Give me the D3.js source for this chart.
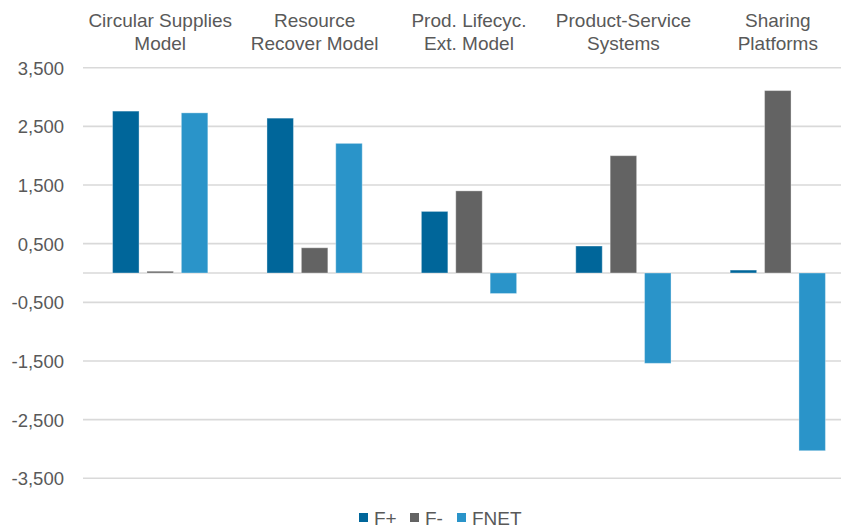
<!DOCTYPE html>
<html>
<head>
<meta charset="utf-8">
<script src="https://cdn.jsdelivr.net/npm/d3@7/dist/d3.min.js"></script>
<style>
  html, body { margin: 0; padding: 0; background: #fff; }
  svg { display: block; }
  text { font-family: "Liberation Sans", Arial, sans-serif; fill: #595959; }
</style>
</head>
<body>
<svg id="chart" width="841" height="529"></svg>
<script>
// Business model categories (two-line labels)
const categories = [
  "Circular Supplies Model",
  "Resource Recover Model",
  "Prod. Lifecyc. Ext. Model",
  "Product-Service Systems",
  "Sharing Platforms"
];
const categoryLines = [
  ["Circular Supplies", "Model"],
  ["Resource", "Recover Model"],
  ["Prod. Lifecyc.", "Ext. Model"],
  ["Product-Service", "Systems"],
  ["Sharing", "Platforms"]
];

const seriesNames = ["F+", "F-", "FNET"];
const fPlus = [2.76, 2.64, 1.05, 0.46, 0.05];
const fMinus = [0.03, 0.43, 1.40, 2.00, 3.11];
const fNet = [2.73, 2.21, -0.35, -1.54, -3.03];

const tickValues = [3.5, 2.5, 1.5, 0.5, -0.5, -1.5, -2.5, -3.5];
const tickLabels = ["3,500", "2,500", "1,500", "0,500", "-0,500", "-1,500", "-2,500", "-3,500"];

const colors = ["#00669a", "#636363", "#2a94c9"];

const series = [fPlus, fMinus, fNet];

const svg = d3.select("#chart");

const x = d3.scaleBand().domain(categories).range([83, 855]).paddingInner(0).paddingOuter(0);
const xInner = d3.scaleBand().domain(seriesNames).range([0, x.bandwidth()])
  .paddingInner(0.23).paddingOuter(0.86);
const y = d3.scaleLinear().domain([-3.5, 3.5]).range([478.3, 67.7]);

// Horizontal gridlines, plus the zero baseline
const gridVals = tickValues.concat([0]);
svg.append("g").selectAll("line").data(gridVals).join("line")
  .attr("x1", 83).attr("x2", 841)
  .attr("y1", d => y(d)).attr("y2", d => y(d))
  .attr("stroke", "#d9d9d9").attr("stroke-width", 1.6);

// Y axis labels
const yAxis = d3.axisLeft(y).tickValues(tickValues)
  .tickFormat((d, i) => tickLabels[i]).tickSize(0).tickPadding(0);
const gy = svg.append("g").attr("transform", "translate(64,0)").call(yAxis);
gy.select(".domain").remove();
gy.selectAll("text")
  .attr("font-size", 18.5)
  .attr("font-family", "Liberation Sans, Arial, sans-serif")
  .attr("fill", "#595959")
  .attr("dy", "0.35em");

// Bars
const rows = [];
categories.forEach((c, ci) => {
  seriesNames.forEach((s, si) => {
    rows.push({ cat: c, ser: s, si, value: series[si][ci] });
  });
});

svg.append("g").selectAll("rect").data(rows).join("rect")
  .attr("x", d => x(d.cat) + xInner(d.ser))
  .attr("width", xInner.bandwidth())
  .attr("y", d => Math.min(y(d.value), y(0)))
  .attr("height", d => Math.abs(y(d.value) - y(0)))
  .attr("fill", d => colors[d.si])
  .attr("stroke", "rgba(255,255,255,0.35)")
  .attr("stroke-width", 1);

// Category labels above the plot
const cl = svg.append("g").selectAll("text").data(categories).join("text")
  .attr("text-anchor", "middle")
  .attr("font-size", 19)
  .attr("x", d => x(d) + x.bandwidth() / 2);
cl.each(function (d, i) {
  const t = d3.select(this);
  categoryLines[i].forEach((line, li) => {
    t.append("tspan")
      .attr("x", x(d) + x.bandwidth() / 2)
      .attr("y", 27 + li * 23)
      .text(line);
  });
});

// Legend
const legendX = [359, 410, 457];
const lg = svg.append("g").selectAll("g").data(seriesNames).join("g")
  .attr("transform", (d, i) => `translate(${legendX[i]},0)`);
lg.append("rect")
  .attr("x", 0).attr("y", 513).attr("width", 9).attr("height", 9)
  .attr("fill", (d, i) => colors[i]);
lg.append("text")
  .attr("x", 15).attr("y", 525)
  .attr("font-size", 19)
  .text(d => d);
</script>
</body>
</html>
